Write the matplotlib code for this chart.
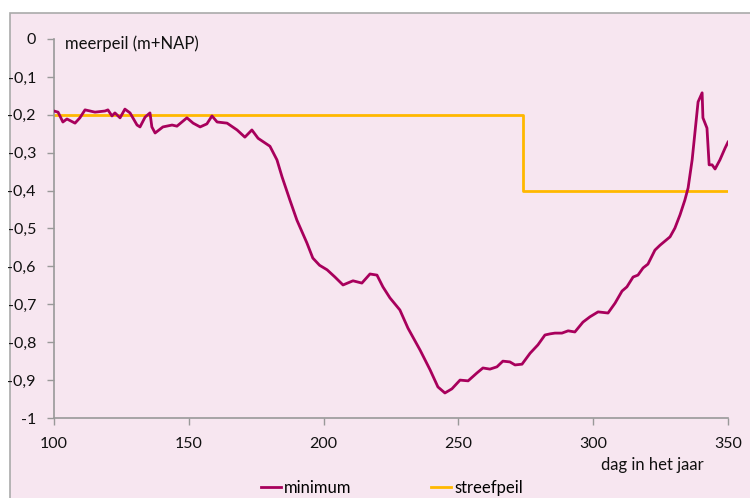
import matplotlib.pyplot as plt
from matplotlib.patches import Rectangle

# minimum lake level per day
days = [100, 101.5, 103.3, 104.8, 107.8, 109.6, 111.5, 113.4, 115.2, 118.9, 120,
        121.5, 122.6, 124.5, 126.3, 128.2, 130.8, 131.9, 133.8, 135.6, 136.3,
        137.5, 140.4, 143.8, 145.6, 149.3, 151.6, 154.2, 156.7, 158.6, 160.5,
        164.2, 167.9, 170.8, 173.4, 175.7, 180.1, 182.7, 184.6, 187.5, 190.1,
        193.8, 196, 198.5, 201.3, 204.2, 207.2, 210.9, 214.2, 217.2, 219.8,
        222, 224.6, 228.3, 231.3, 235.8, 239.5, 242.4, 245, 247.6, 250.6,
        253.6, 256.9, 259.1, 261.7, 264.3, 266.5, 269.1, 271, 273.6, 276.6,
        279.5, 282.1, 284, 285.8, 288.4, 290.7, 293.2, 296.2, 298.8, 301.8,
        305.5, 308.1, 310.7, 312.5, 314.8, 316.6, 318.5, 320.3, 322.9, 324.8,
        328.5, 330.3, 332.2, 334, 335.2, 336.7, 338.9, 340.4, 340.7, 342.2,
        343, 344.1, 345.2, 347, 348.9, 350]
minimum = [-0.19, -0.193, -0.219, -0.211, -0.222, -0.208, -0.187, -0.19, -0.193,
           -0.19, -0.187, -0.203, -0.195, -0.208, -0.185, -0.195, -0.227, -0.232,
           -0.206, -0.195, -0.232, -0.248, -0.232, -0.227, -0.23, -0.208, -0.222,
           -0.232, -0.224, -0.203, -0.219, -0.222, -0.24, -0.259, -0.24, -0.262,
           -0.283, -0.319, -0.364, -0.425, -0.478, -0.538, -0.578, -0.597, -0.609,
           -0.628, -0.649, -0.638, -0.644, -0.62, -0.623, -0.654, -0.683, -0.715,
           -0.763, -0.821, -0.873, -0.918, -0.934, -0.923, -0.9, -0.902, -0.881,
           -0.868, -0.871, -0.865, -0.85, -0.852, -0.86, -0.858, -0.829, -0.807,
           -0.781, -0.778, -0.776, -0.776, -0.77, -0.773, -0.747, -0.733, -0.72,
           -0.723, -0.697, -0.665, -0.654, -0.628, -0.623, -0.604, -0.594, -0.557,
           -0.544, -0.522, -0.499, -0.464, -0.425, -0.393, -0.319, -0.166, -0.142,
           -0.208, -0.235, -0.332, -0.332, -0.343, -0.319, -0.288, -0.272]

# target level (step)
streef_days = [100, 274, 350]
streefpeil = [-0.2, -0.4, -0.4]

xticks = [100, 150, 200, 250, 300, 350]
yticks = [0, -0.1, -0.2, -0.3, -0.4, -0.5, -0.6, -0.7, -0.8, -0.9, -1]
ylabels = ["0", "-0,1", "-0,2", "-0,3", "-0,4", "-0,5", "-0,6", "-0,7", "-0,8", "-0,9", "-1"]

pink = "#f7e6f0"
magenta = "#a8005c"
orange = "#ffb800"
grey = "#999999"

plt.rcParams["font.family"] = ["Lato", "DejaVu Sans"]

fig = plt.figure(figsize=(7.5, 4.98), dpi=100)
fig.patch.set_facecolor("white")
fig.patches.append(Rectangle((10 / 750, -0.02), 1.0, (498 - 13) / 498 + 0.02,
                             transform=fig.transFigure, facecolor=pink,
                             edgecolor="#aaaaaa", linewidth=1.2, zorder=-10))

ax = fig.add_axes([54 / 750, 80 / 498, 674 / 750, 379 / 498])
ax.set_facecolor(pink)
ax.patch.set_alpha(0)

ax.plot(days, minimum, color=magenta, lw=2.0, label="minimum", zorder=3)
ax.plot(streef_days, streefpeil, color=orange, lw=2.0, drawstyle="steps-post",
        label="streefpeil", zorder=2)

ax.set_xlim(100, 350)
ax.set_ylim(-1, 0)
ax.set_xticks(xticks)
ax.set_yticks(yticks)
ax.set_yticklabels(ylabels)
for s in ["top", "right"]:
    ax.spines[s].set_visible(False)
for s in ["left", "bottom"]:
    ax.spines[s].set_color(grey)
    ax.spines[s].set_linewidth(1.2)
ax.tick_params(axis="both", colors=grey, labelcolor="#111111", labelsize=11.5,
               length=5, width=1)
ax.tick_params(axis="y", pad=8)
ax.tick_params(axis="x", pad=9)

ax.text(65 / 750, 1 - 44 / 498, "meerpeil (m+NAP)", transform=fig.transFigure,
        fontsize=12, color="#111111", va="center", ha="left")
ax.text(652 / 750, 1 - 465 / 498, "dag in het jaar", transform=fig.transFigure,
        fontsize=12, color="#111111", va="center", ha="center")

fig.legend(loc="center", bbox_to_anchor=(392 / 750, 1 - 488 / 498), ncol=2,
           frameon=False, fontsize=12, handlelength=1.2, handletextpad=0.2,
           columnspacing=4.8, borderaxespad=0)

fig.savefig("out.png", dpi=100, facecolor=fig.get_facecolor())
